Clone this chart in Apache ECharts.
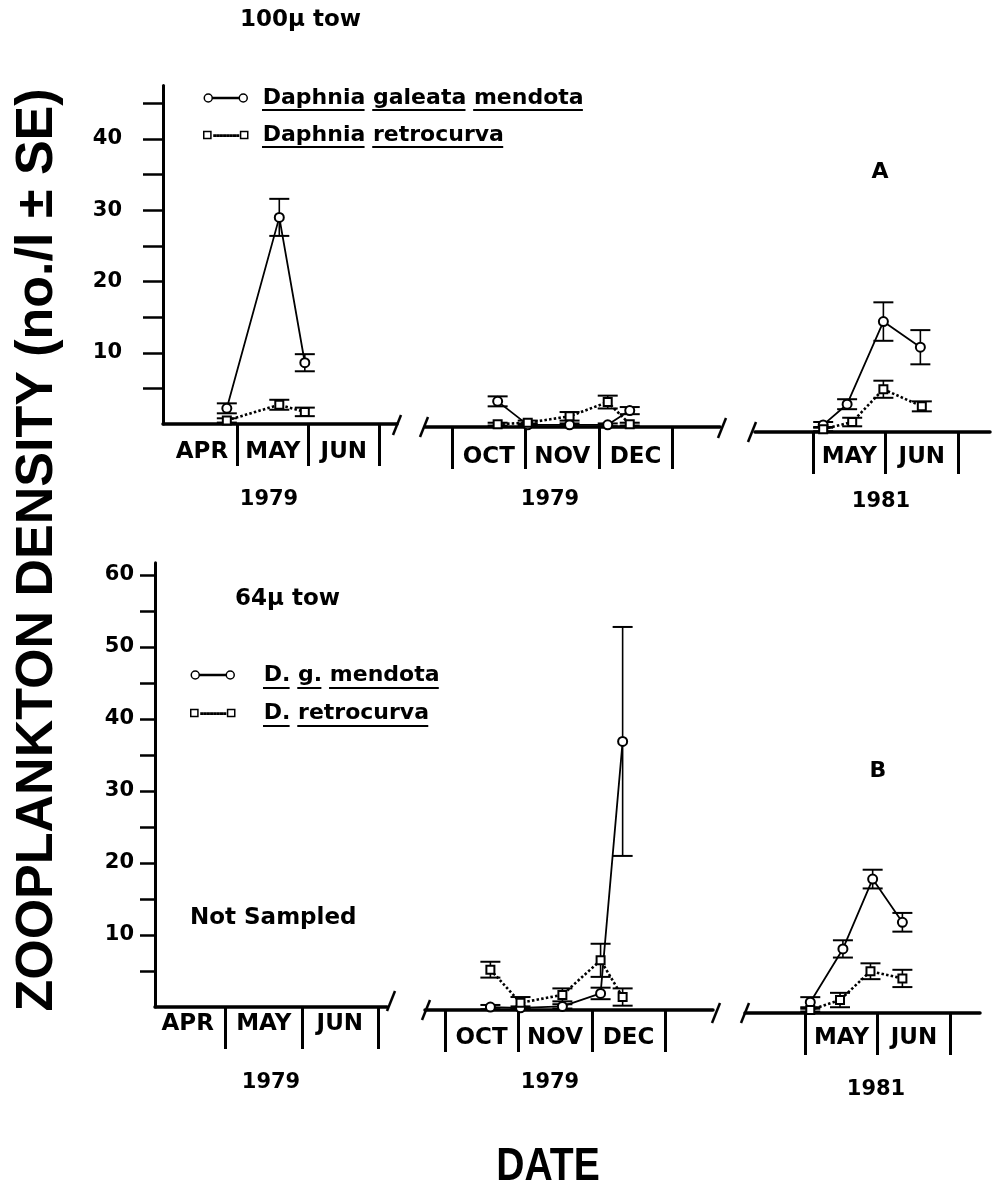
<!DOCTYPE html>
<html>
<head>
<meta charset="utf-8">
<script src="https://cdn.jsdelivr.net/npm/echarts@6/dist/echarts.min.js"></script>
<style>
html,body{margin:0;padding:0;background:#fff}
#chart{width:998px;height:1203px}
</style>
</head>
<body>
<div id="chart"></div>
<script>
// ---------------- DATA ----------------
// Dates are month number + fraction of month (e.g. 4.5 = mid-April)
const MONTHS = ['JAN','FEB','MAR','APR','MAY','JUN','JUL','AUG','SEP','OCT','NOV','DEC'];
const yearLabels = ['1979', '1979', '1981'];
const seriesTopNames = ['Daphnia galeata mendota', 'Daphnia retrocurva'];
const seriesBottomNames = ['D. g. mendota', 'D. retrocurva'];
const yTicksTop = [5, 10, 15, 20, 25, 30, 35, 40, 45];
const yLabelsTop = [10, 20, 30, 40];
const yTicksBottom = [5, 10, 15, 20, 25, 30, 35, 40, 45, 50, 55, 60];
const yLabelsBottom = [10, 20, 30, 40, 50, 60];
const monthTicksSpring = [5, 6, 7];
const monthMidsSpring = [4.5, 5.5, 6.5];
const monthTicksFall = [10, 11, 12, 13];
const monthMidsFall = [10.5, 11.5, 12.5];
const monthTicks1981 = [5, 6, 7];
const monthMids1981 = [5.5, 6.5];

// Panel A: 100µ tow
const aSpring79Dates = [4.85, 5.59, 5.95];
const aSpring79Galeata = [2.2, 29.0, 8.6];
const aSpring79GaleataSE = [0.7, 2.6, 1.2];
const aSpring79Retro = [0.5, 2.7, 1.7];
const aSpring79RetroSE = [0.3, 0.7, 0.6];

const aFall79Dates = [10.62, 11.03, 11.6, 12.12, 12.42];
const aFall79Galeata = [3.6, 0.3, 0.3, 0.3, 2.3];
const aFall79GaleataSE = [0.7, 0.2, 0.2, 0.2, 0.5];
const aFall79Retro = [0.4, 0.6, 1.5, 3.5, 0.4];
const aFall79RetroSE = [0.2, 0.3, 0.6, 0.9, 0.2];

const a1981GaleataDates = [5.14, 5.47, 5.97, 6.48];
const a1981Galeata = [1.0, 3.9, 15.5, 11.9];
const a1981GaleataSE = [0.4, 0.7, 2.7, 2.4];
const a1981RetroDates = [5.14, 5.54, 5.97, 6.5];
const a1981Retro = [0.4, 1.4, 6.0, 3.6];
const a1981RetroSE = [0.3, 0.6, 1.2, 0.7];

// Panel B: 64µ tow (spring 1979 not sampled)
const bFall79Dates = [10.62, 11.03, 11.6, 12.12, 12.42];
const bFall79Galeata = [0.4, 0.3, 0.5, 2.3, 37.3];
const bFall79GaleataSE = [0.3, 0.2, 0.3, 0.8, 15.9];
const bFall79Retro = [5.6, 1.0, 2.1, 6.9, 1.8];
const bFall79RetroSE = [1.1, 0.8, 0.9, 2.3, 1.2];

const b1981GaleataDates = [5.07, 5.52, 5.93, 6.34];
const b1981Galeata = [1.5, 8.9, 18.6, 12.6];
const b1981GaleataSE = [0.7, 1.2, 1.3, 1.3];
const b1981RetroDates = [5.07, 5.48, 5.9, 6.34];
const b1981Retro = [0.4, 1.8, 5.8, 4.8];
const b1981RetroSE = [0.2, 1.0, 1.1, 1.2];

// ---------------- LAYOUT ----------------
const FONT = 'DejaVu Sans';
const Y_MAX_A = 47.5, PX_A = 7.125;
const Y_MAX_B = 61.7, PX_B = 7.2;
const segs = [
  {left:163, right:397, base:424, ymax:Y_MAX_A, px:PX_A, xmin:3.95, xmax:7.25, ticks:monthTicksSpring, mids:monthMidsSpring, lm:17, year:0, gap:65, pad:[0,22,0,0], yshow:true},
  {left:425, right:720, base:427, ymax:Y_MAX_A, px:PX_A, xmin:9.63, xmax:13.65, ticks:monthTicksFall, mids:monthMidsFall, lm:19, year:1, gap:62, pad:[0,45,0,0]},
  {left:755, right:990, base:432, ymax:Y_MAX_A, px:PX_A, xmin:4.2, xmax:7.44, ticks:monthTicks1981, mids:monthMids1981, lm:14, year:2, gap:59, pad:[0,0,0,17]},
  {left:155, right:387, base:1007, ymax:Y_MAX_B, px:PX_B, xmin:4.07, xmax:7.12, ticks:monthTicksSpring, mids:monthMidsSpring, lm:6, year:0, gap:65, pad:[0,0,0,0], yshow:true},
  {left:425, right:713, base:1010, ymax:Y_MAX_B, px:PX_B, xmin:9.73, xmax:13.65, ticks:monthTicksFall, mids:monthMidsFall, lm:17, year:1, gap:62, pad:[0,38,0,0]},
  {left:745, right:980, base:1013, ymax:Y_MAX_B, px:PX_B, xmin:4.17, xmax:7.41, ticks:monthTicks1981, mids:monthMids1981, lm:14, year:2, gap:66, pad:[0,0,0,27]}
];

const grid = segs.map(s => ({
  left: s.left, width: s.right - s.left,
  top: s.base - s.ymax * s.px, height: s.ymax * s.px,
  containLabel: false, outerBoundsMode: 'none'
}));

const labelStyle = {fontFamily: FONT, fontWeight: 'bold', color: '#000'};

const xAxis = segs.map((s, i) => ({
  gridIndex: i, type: 'value', min: s.xmin, max: s.xmax, position: 'bottom',
  axisLine: {show: true, onZero: false, lineStyle: {color: '#000', width: 3.5}},
  axisTick: {show: true, inside: false, length: 42, customValues: s.ticks, lineStyle: {color: '#000', width: 3}},
  axisLabel: Object.assign({customValues: s.mids, margin: s.lm, fontSize: 23,
    formatter: v => MONTHS[Math.floor(v) - 1]}, labelStyle),
  splitLine: {show: false},
  name: yearLabels[s.year], nameLocation: 'middle', nameGap: s.gap,
  nameTextStyle: Object.assign({fontSize: 21, padding: s.pad}, labelStyle)
}));

const yAxis = segs.map((s, i) => {
  const isTop = i < 3;
  return {
    gridIndex: i, type: 'value', min: 0, max: s.ymax, show: !!s.yshow,
    axisLine: {show: true, onZero: false, lineStyle: {color: '#000', width: 3}},
    axisTick: {show: true, inside: false, length: isTop ? 20 : 15,
      customValues: isTop ? yTicksTop : yTicksBottom, lineStyle: {color: '#000', width: 2.5}},
    axisLabel: Object.assign({customValues: isTop ? yLabelsTop : yLabelsBottom,
      margin: isTop ? 41 : 21, fontSize: 21}, labelStyle),
    splitLine: {show: false}
  };
});

// ---------------- SERIES ----------------
const series = [];
function addSeries(gi, name, kind, dates, vals, se) {
  const errData = dates.map((d, k) => [d, vals[k] - se[k], vals[k] + se[k]]);
  series.push({
    type: 'custom', name: name + ' (SE)', xAxisIndex: gi, yAxisIndex: gi,
    coordinateSystem: 'cartesian2d', z: 2, silent: true,
    encode: {x: 0, y: [1, 2]},
    data: errData,
    renderItem: function (params, api) {
      const x = api.value(0);
      const lo = api.coord([x, api.value(1)]);
      const hi = api.coord([x, api.value(2)]);
      const hw = 10;
      const st = {stroke: '#000', lineWidth: 2};
      return {type: 'group', children: [
        {type: 'line', shape: {x1: hi[0], y1: hi[1], x2: lo[0], y2: lo[1]}, style: {stroke: '#000', lineWidth: 1.6}},
        {type: 'line', shape: {x1: hi[0] - hw, y1: hi[1], x2: hi[0] + hw, y2: hi[1]}, style: st},
        {type: 'line', shape: {x1: lo[0] - hw, y1: lo[1], x2: lo[0] + hw, y2: lo[1]}, style: st}
      ]};
    }
  });
  const g = kind === 'g';
  series.push({
    type: 'line', name: name, xAxisIndex: gi, yAxisIndex: gi, z: 3,
    data: dates.map((d, k) => [d, vals[k]]),
    symbol: g ? 'circle' : 'rect', symbolSize: g ? 9 : 8,
    itemStyle: {color: '#fff', borderColor: '#000', borderWidth: 2},
    lineStyle: {color: '#000', width: g ? 1.8 : 2.6, type: g ? 'solid' : [2.5, 2.2]},
    emphasis: {disabled: true}
  });
}
addSeries(0, seriesTopNames[0], 'g', aSpring79Dates, aSpring79Galeata, aSpring79GaleataSE);
addSeries(0, seriesTopNames[1], 'r', aSpring79Dates, aSpring79Retro, aSpring79RetroSE);
addSeries(1, seriesTopNames[0], 'g', aFall79Dates, aFall79Galeata, aFall79GaleataSE);
addSeries(1, seriesTopNames[1], 'r', aFall79Dates, aFall79Retro, aFall79RetroSE);
addSeries(2, seriesTopNames[0], 'g', a1981GaleataDates, a1981Galeata, a1981GaleataSE);
addSeries(2, seriesTopNames[1], 'r', a1981RetroDates, a1981Retro, a1981RetroSE);
addSeries(4, seriesBottomNames[0], 'g', bFall79Dates, bFall79Galeata, bFall79GaleataSE);
addSeries(4, seriesBottomNames[1], 'r', bFall79Dates, bFall79Retro, bFall79RetroSE);
addSeries(5, seriesBottomNames[0], 'g', b1981GaleataDates, b1981Galeata, b1981GaleataSE);
addSeries(5, seriesBottomNames[1], 'r', b1981RetroDates, b1981Retro, b1981RetroSE);

// ---------------- LEGENDS ----------------
const ICON_CIRCLE = 'path://M1,6a4,4 0 1,0 8,0a4,4 0 1,0 -8,0ZM9,5.6L36,5.6L36,6.4L9,6.4ZM36,6a4,4 0 1,0 8,0a4,4 0 1,0 -8,0Z';
let dots = '';
for (let x = 11; x < 34; x += 3.2) dots += 'M' + x + ',5.4h1.6v1.2h-1.6Z';
const ICON_SQUARE = 'path://M1,2h7v7h-7Z' + dots + 'M37,2h7v7h-7Z';

const LEG_FONT = 22;
function legendCfg(names, left, top, gap, padLeft) {
  return {
    data: [{name: names[0], icon: ICON_CIRCLE}, {name: names[1], icon: ICON_SQUARE}],
    orient: 'vertical', left: left, top: top, padding: 0,
    itemWidth: 44, itemHeight: 8, itemGap: gap,
    selectedMode: false,
    itemStyle: {color: '#fff', borderColor: '#000', borderWidth: 1.5},
    textStyle: {fontFamily: FONT, fontWeight: 'bold', fontSize: LEG_FONT, color: '#000', padding: [0, 0, 0, padLeft]}
  };
}
const legend = [legendCfg(seriesTopNames, 203, 87, 15, 10), legendCfg(seriesBottomNames, 190, 664, 16, 24)];

// underline each word of legend labels
const mctx = document.createElement('canvas').getContext('2d');
function underline(text, x0, y) {
  mctx.font = 'bold ' + LEG_FONT + 'px "' + FONT + '"';
  const sp = mctx.measureText(' ').width;
  const out = [];
  let x = x0;
  text.split(' ').forEach(w => {
    const wd = mctx.measureText(w).width;
    out.push({type: 'line', shape: {x1: x, y1: y, x2: x + wd, y2: y}, style: {stroke: '#000', lineWidth: 2}});
    x += wd + sp;
  });
  return out;
}

function slash(x, y) {
  return {type: 'line', shape: {x1: x - 4, y1: y + 10, x2: x + 4, y2: y - 10}, style: {stroke: '#000', lineWidth: 2.5}};
}
function txt(x, y, text, size, align, extra) {
  return Object.assign({type: 'text', x: x, y: y, style: {text: text, fontFamily: FONT, fontWeight: 'bold', fontSize: size, fill: '#000', align: align || 'left', verticalAlign: 'middle'}}, extra || {});
}

const graphic = [
  {type: 'text', x: 38, y: 550, rotation: Math.PI / 2,
    style: {text: 'ZOOPLANKTON DENSITY (no./l ± SE)', fontFamily: 'Liberation Sans', fontWeight: 'bold', fontSize: 52, fill: '#000', align: 'center', verticalAlign: 'middle'}},
  {type: 'text', x: 548, y: 1167, scaleX: 0.85,
    style: {text: 'DATE', fontFamily: 'Liberation Sans', fontWeight: 'bold', fontSize: 46, fill: '#000', align: 'center', verticalAlign: 'middle'}},
  txt(240, 20, '100µ tow', 23),
  txt(235, 599, '64µ tow', 23),
  txt(190, 918, 'Not Sampled', 23),
  txt(880, 172, 'A', 22, 'center'),
  txt(878, 771, 'B', 22, 'center'),
  slash(397, 425), slash(424, 427), slash(722, 428), slash(752, 432),
  slash(391, 1001), slash(426, 1010), slash(716, 1013), slash(745, 1013)
].concat(
  underline(seriesTopNames[0], 262, 110),
  underline(seriesTopNames[1], 262, 147),
  underline(seriesBottomNames[0], 263, 688),
  underline(seriesBottomNames[1], 263, 726)
);

const chart = echarts.init(document.getElementById('chart'), null, {renderer: 'canvas'});
chart.setOption({
  backgroundColor: '#fff',
  animation: false,
  grid: grid, xAxis: xAxis, yAxis: yAxis,
  legend: legend,
  series: series,
  graphic: graphic
});
</script>
</body>
</html>
